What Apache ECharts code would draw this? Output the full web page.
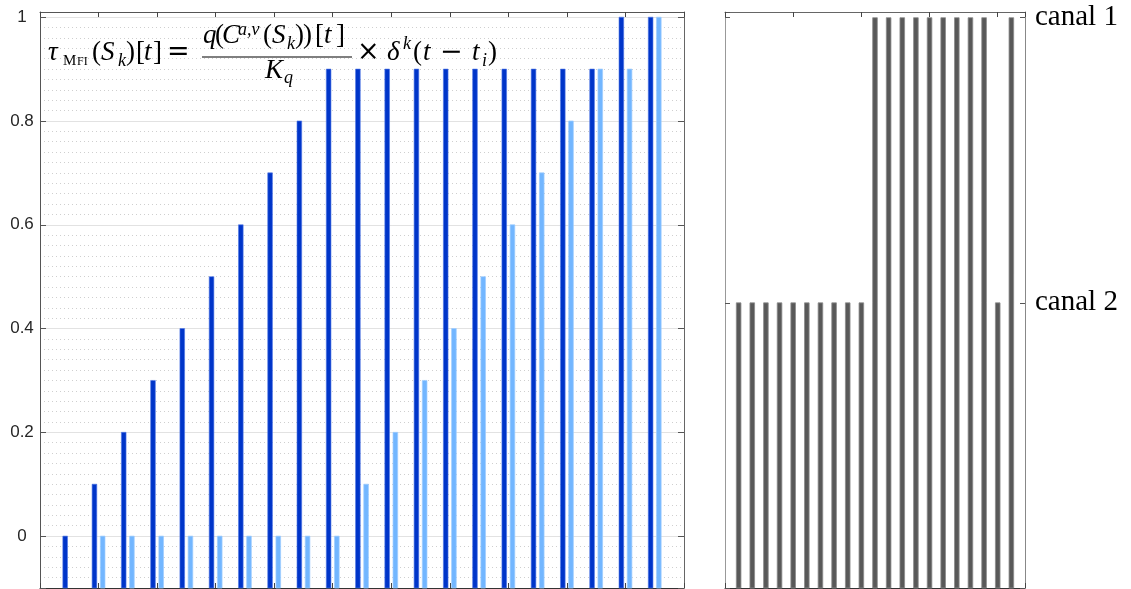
<!DOCTYPE html>
<html><head><meta charset="utf-8">
<script src="https://cdn.jsdelivr.net/npm/echarts@6/dist/echarts.min.js"></script>
<style>html,body{margin:0;padding:0;background:#fff}#c{width:1131px;height:589px}</style>
</head><body><div id="c"></div>
<script>
// ---------- data ----------
const steps = [1,2,3,4,5,6,7,8,9,10,11,12,13,14,15,16,17,18,19,20,21];
const darkValues  = [0,0.1,0.2,0.3,0.4,0.5,0.6,0.7,0.8,0.9,0.9,0.9,0.9,0.9,0.9,0.9,0.9,0.9,0.9,1,1];
const lightValues = [null,0,0,0,0,0,0,0,0,0,0.1,0.2,0.3,0.4,0.5,0.6,0.7,0.8,0.9,0.9,1];
const yTickValues = [0,0.2,0.4,0.6,0.8,1];
const yTickLabels = ['0','0.2','0.4','0.6','0.8','1'];
const channelLabels = ['canal 1','canal 2'];
const channelLevels = [1, 0.5];
const channelOfStep = ['canal 2','canal 2','canal 2','canal 2','canal 2','canal 2','canal 2','canal 2','canal 2','canal 2',
  'canal 1','canal 1','canal 1','canal 1','canal 1','canal 1','canal 1','canal 1','canal 1','canal 2','canal 1'];

// ---------- chart ----------
const chart = echarts.init(document.getElementById('c'), null, {renderer:'canvas'});
const LEFT_YMIN = -0.1, LEFT_YMAX = 1.01;

function barRenderer(offset, width, fill, stroke, base){
  return function(params, api){
    const x = api.value(0), v = api.value(1);
    if (isNaN(v)) return null;
    const top = api.coord([x + offset, v]);
    const bot = api.coord([x + offset, base]);
    const w = api.size([width, 0])[0];
    return {type:'rect', shape:{x: top[0]-w/2, y: top[1], width: w, height: bot[1]-top[1]},
      style:{fill: fill, stroke: stroke, lineWidth: 1}};
  };
}

function frameX(grid, pos, interval, col){
  return {gridIndex:grid, type:'value', min:0, max:22, interval:interval, position:pos,
    axisLine:{show:true, onZero:false, lineStyle:{color:col, width:1}},
    axisTick:{show:true, inside:true, length:5, lineStyle:{color:'#444'}},
    axisLabel:{show:false}, splitLine:{show:false}};
}

const serif = '"Liberation Serif", "DejaVu Serif", serif';
const opSerif = '"DejaVu Serif", "Liberation Serif", serif';
const M = 27, S = 18;
// formula glyph runs: text, x, baseline, size, italic, family
const formula = [
  ['τ',48,62,M,1],['M',63,66,15,0],['FI',77,66,12,0],['(',92,62,M,0],['S',101,62,M,1],['k',118,67,S,1],[')',126,62,M,0],
  ['[',136,62,M,0],['t',144,62,M,1],[']',153,62,M,0],['=',167,62,M,0,1],
  ['q',203,45,M,1],['(',215,45,M,0],['C',222,45,M,1],['a,v',238,36,S,1],['(',263,45,M,0],['S',272,45,M,1],
  ['k',287,50,S,1],[')',295,45,M,0],[')',303,45,M,0],['[',315,45,M,0],['t',324,45,M,1],[']',336,45,M,0],
  ['K',265,80,M,1],['q',284,84,S,1],
  ['×',357,62,M,0,1],['δ',387,62,M,1],['k',403,50,S,1],['(',413,62,M,0],['t',423,62,M,1],['−',440,62,M,0,1],
  ['t',472,62,M,1],['i',482,67,S,1],[')',488,62,M,0]
];
const graphics = formula.map(f => ({
  type:'text', x:f[1], y:f[2] - 0.34*f[3], z:100, silent:true,
  style:{text:f[0], fontSize:f[3], fontStyle:f[4]?'italic':'normal', fontFamily:f[5]?opSerif:serif,
    fill:'#000', align:'left', verticalAlign:'middle'}
}));
graphics.push({type:'line', z:100, silent:true, shape:{x1:202,y1:57,x2:352,y2:57}, style:{stroke:'#000', lineWidth:1.2}});

const option = {
  animation:false,
  backgroundColor:'#fff',
  grid:[{left:40, top:12, width:644, height:576},{left:725, top:12, width:300, height:576}],
  xAxis:[frameX(0,'bottom',2,'#333'), frameX(0,'top',2,'#555'), frameX(1,'bottom',5,'#333'), frameX(1,'top',5,'#666')],
  yAxis:[
    {gridIndex:0, type:'value', min:LEFT_YMIN, max:LEFT_YMAX, minInterval:0.2, maxInterval:0.2, splitNumber:5, position:'left',
      axisLine:{show:true, onZero:false, lineStyle:{color:'#555'}},
      axisTick:{show:true, inside:true, length:6, lineStyle:{color:'#555'}},
      axisLabel:{margin:18, align:'center', fontSize:17, fontFamily:'"Liberation Sans", Arial, sans-serif', color:'#262626',
        formatter:v => { const i = yTickValues.findIndex(t => Math.abs(t-v) < 1e-9); return i>=0 ? yTickLabels[i] : ''; }},
      splitLine:{show:true, lineStyle:{color:'#e2e2e2', width:1}},
      minorTick:{show:false, splitNumber:10},
      minorSplitLine:{show:true, lineStyle:{color:'#cfcfcf', width:1, type:[1,3]}}},
    {gridIndex:0, type:'value', min:LEFT_YMIN, max:LEFT_YMAX, minInterval:0.2, maxInterval:0.2, splitNumber:5, position:'right',
      axisLine:{show:true, onZero:false, lineStyle:{color:'#666'}},
      axisTick:{show:true, inside:true, length:6, lineStyle:{color:'#555'}},
      axisLabel:{show:false}, splitLine:{show:false}},
    {gridIndex:1, type:'value', min:0, max:1.01, minInterval:0.5, maxInterval:0.5, splitNumber:2, position:'left',
      axisLine:{show:true, onZero:false, lineStyle:{color:'#999'}},
      axisTick:{show:true, inside:true, length:5, lineStyle:{color:'#555'}},
      axisLabel:{show:false}, splitLine:{show:false}},
    {gridIndex:1, type:'value', min:0, max:1.01, minInterval:0.5, maxInterval:0.5, splitNumber:2, position:'right',
      axisLine:{show:true, onZero:false, lineStyle:{color:'#888'}},
      axisTick:{show:true, inside:true, length:5, lineStyle:{color:'#555'}},
      axisLabel:{margin:10, align:'left', fontSize:29, fontFamily:serif, color:'#000',
        formatter:v => { const i = channelLevels.findIndex(t => Math.abs(t-v) < 1e-9); return i>=0 ? channelLabels[i] : ''; }},
      splitLine:{show:false}}
  ],
  series:[
    {type:'custom', name:'dark', xAxisIndex:0, yAxisIndex:0, z:3,
      data: steps.map((s,i) => [s, darkValues[i]]),
      renderItem: barRenderer(-0.14, 0.16, '#0035c9', 'rgba(80,120,230,0.6)', LEFT_YMIN)},
    {type:'custom', name:'light', xAxisIndex:0, yAxisIndex:0, z:3,
      data: steps.map((s,i) => [s, lightValues[i] == null ? NaN : lightValues[i]]),
      renderItem: barRenderer(0.14, 0.16, '#72b6ff', 'rgba(160,205,255,0.7)', LEFT_YMIN)},
    {type:'custom', name:'channel', xAxisIndex:2, yAxisIndex:2, z:3,
      data: steps.map((s,i) => [s, channelLevels[channelLabels.indexOf(channelOfStep[i])]]),
      renderItem: barRenderer(0, 0.34, '#595959', 'rgba(140,140,140,0.8)', 0)}
  ],
  graphic: graphics
};
chart.setOption(option);
</script></body></html>
